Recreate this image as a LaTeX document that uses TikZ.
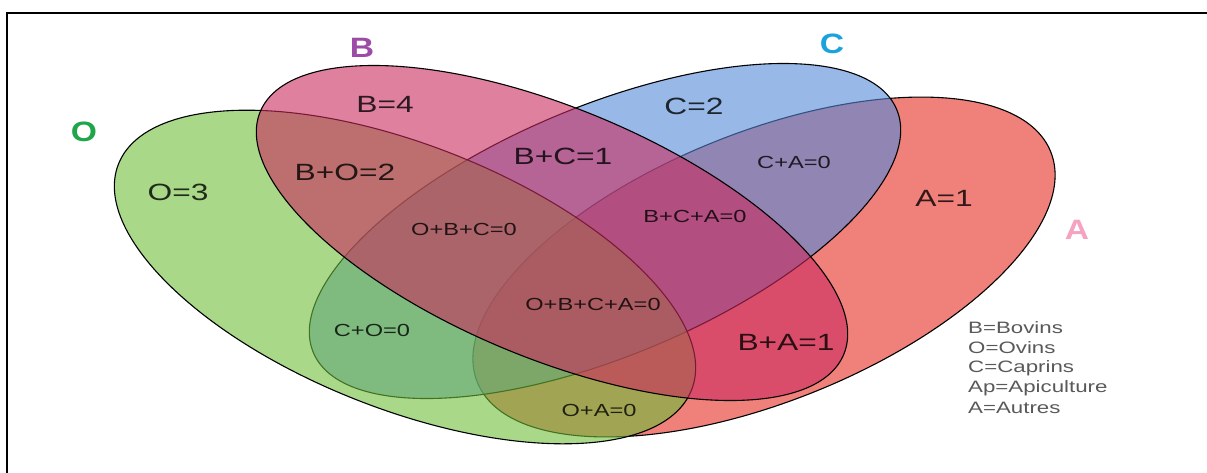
\documentclass[tikz,border=0pt]{standalone}
\usepackage{fontspec}
\setmainfont{Liberation Sans}
\usepackage{tikz}

\definecolor{colO}{RGB}{110,190,57}
\definecolor{colB}{RGB}{203,43,95}
\definecolor{colC}{RGB}{83,137,217}
\definecolor{colA}{RGB}{228,43,33}
\definecolor{nameO}{RGB}{31,166,74}
\definecolor{nameB}{RGB}{156,75,166}
\definecolor{nameC}{RGB}{27,161,219}
\definecolor{nameA}{RGB}{245,163,192}

\newcommand{\wtxt}[1]{\scalebox{1.35}[1]{#1}}

\begin{document}
\begin{tikzpicture}[x=1pt,y=-1pt,
  setfill/.style={draw=black, line width=1.1pt, fill opacity=0.6},
  bigtag/.style={font=\fontsize{23.5}{26}\selectfont, text opacity=0.8, inner sep=0pt},
  smalltag/.style={font=\fontsize{17.5}{20}\selectfont, text opacity=0.8, inner sep=0pt},
  setname/.style={font=\fontsize{28}{30}\selectfont\bfseries, inner sep=0pt},
  keytext/.style={font=\fontsize{16.5}{19}\selectfont, text=black!65, anchor=west, inner sep=0pt}]

\useasboundingbox (0,0) rectangle (1207,472);
\draw[line width=2pt] (7,13) rectangle (1240,500);

\filldraw[setfill, fill=colA, shift={(764,267)}, rotate=21.9] (0,0) ellipse (309 and 134.6);
\filldraw[setfill, fill=colC, shift={(605,231)}, rotate=22.6] (0,0) ellipse (316 and 125);
\filldraw[setfill, fill=colO, shift={(405,277)}, rotate=-21.5] (0,0) ellipse (308 and 132);
\filldraw[setfill, fill=colB, shift={(552,233)}, rotate=-22.6] (0,0) ellipse (316 and 125);

\node[setname, text=nameO] (O0) at (84,132) {\scalebox{1.2}[1]{O}};
\node[setname, text=nameB] (B0) at (362,48) {\scalebox{1.2}[1]{B}};
\node[setname, text=nameC] (C0) at (832,44) {\scalebox{1.2}[1]{C}};
\node[setname, text=nameA] (A0) at (1077,230) {\scalebox{1.2}[1]{A}};

\node[bigtag] (rB) at (385,104) {\wtxt{B=4}};
\node[bigtag] (rC) at (694,106) {\wtxt{C=2}};
\node[bigtag] (rO) at (178,192) {\wtxt{O=3}};
\node[bigtag] (rA) at (944,198) {\wtxt{A=1}};
\node[bigtag] (rBO) at (345,172) {\wtxt{B+O=2}};
\node[bigtag] (rBC) at (563,156) {\wtxt{B+C=1}};
\node[bigtag] (rBA) at (786,342) {\wtxt{B+A=1}};

\node[smalltag] (rCA) at (794,162) {\wtxt{C+A=0}};
\node[smalltag] (rOBC) at (464,229) {\wtxt{O+B+C=0}};
\node[smalltag] (rBCA) at (695,216) {\wtxt{B+C+A=0}};
\node[smalltag] (rOBCA) at (593,304) {\wtxt{O+B+C+A=0}};
\node[smalltag] (rCO) at (372,330) {\wtxt{C+O=0}};
\node[smalltag] (rOA) at (599,410) {\wtxt{O+A=0}};

\node[keytext] (k1) at (968,328) {\wtxt{B=Bovins}};
\node[keytext] (k2) at (968,348) {\wtxt{O=Ovins}};
\node[keytext] (k3) at (968,368) {\wtxt{C=Caprins}};
\node[keytext] (k4) at (968,388) {\wtxt{Ap=Apiculture}};
\node[keytext] (k5) at (968,408) {\wtxt{A=Autres}};
\end{tikzpicture}
\end{document}
